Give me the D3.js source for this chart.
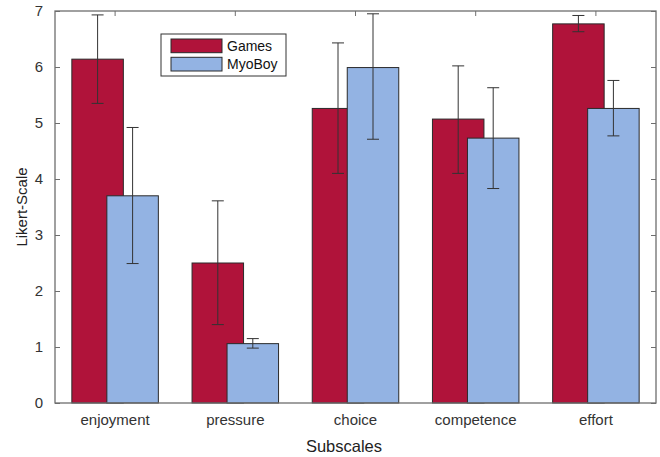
<!DOCTYPE html>
<html>
<head>
<meta charset="utf-8">
<script src="https://cdn.jsdelivr.net/npm/d3@7"></script>
<style>
  html, body { margin: 0; padding: 0; background: #fff; }
  text { font-family: "Liberation Sans", Arial, sans-serif; }
</style>
</head>
<body>
<svg id="chart" width="660" height="457"></svg>
<script>
// Subscale means and error limits for the two conditions
const categories = ["enjoyment", "pressure", "choice", "competence", "effort"];
const seriesNames = ["Games", "MyoBoy"];
const gamesMean = [6.14, 2.50, 5.26, 5.07, 6.77];
const gamesLow  = [5.35, 1.40, 4.10, 4.10, 6.63];
const gamesHigh = [6.93, 3.61, 6.43, 6.02, 6.92];
const myoMean = [3.70, 1.06, 5.99, 4.73, 5.26];
const myoLow  = [2.49, 0.98, 4.71, 3.83, 4.77];
const myoHigh = [4.92, 1.15, 6.95, 5.63, 5.76];
const yTicks = [0, 1, 2, 3, 4, 5, 6, 7];
const colors = ["#B0133A", "#93B3E3"];

const svg = d3.select("#chart");
const m = { left: 55, right: 4, top: 11, bottom: 54 };
const W = 660, H = 457;

const x = d3.scaleBand().domain(categories).range([m.left, W - m.right]);
const y = d3.scaleLinear().domain([0, 7]).range([H - m.bottom, m.top]);

const barW = 51.5, off = 17.5;
const series = [
  { name: seriesNames[0], mean: gamesMean, lo: gamesLow, hi: gamesHigh, dx: -off, color: colors[0] },
  { name: seriesNames[1], mean: myoMean, lo: myoLow, hi: myoHigh, dx: off, color: colors[1] }
];

const cx = c => x(c) + x.bandwidth() / 2;

// bars (second series drawn over the first) with their error bars
series.forEach(s => {
  const g = svg.append("g");
  g.selectAll("rect").data(categories).join("rect")
    .attr("x", c => cx(c) + s.dx - barW / 2)
    .attr("y", (c, i) => y(s.mean[i]))
    .attr("width", barW)
    .attr("height", (c, i) => y(0) - y(s.mean[i]))
    .attr("fill", s.color)
    .attr("stroke", "#2a2a2a")
    .attr("stroke-width", 1);
  const eb = g.selectAll("g.err").data(categories).join("g").attr("class", "err")
    .attr("stroke", "#333").attr("stroke-width", 1);
  eb.append("line")
    .attr("x1", c => cx(c) + s.dx).attr("x2", c => cx(c) + s.dx)
    .attr("y1", (c, i) => y(s.lo[i])).attr("y2", (c, i) => y(s.hi[i]));
  eb.append("line")
    .attr("x1", c => cx(c) + s.dx - 6).attr("x2", c => cx(c) + s.dx + 6)
    .attr("y1", (c, i) => y(s.hi[i])).attr("y2", (c, i) => y(s.hi[i]));
  eb.append("line")
    .attr("x1", c => cx(c) + s.dx - 6).attr("x2", c => cx(c) + s.dx + 6)
    .attr("y1", (c, i) => y(s.lo[i])).attr("y2", (c, i) => y(s.lo[i]));
});

// axes box
const axisColor = "#6e6e6e";
const yAxis = d3.axisLeft(y).tickValues(yTicks).tickFormat(d3.format("d")).tickSize(-5).tickPadding(12);
const gy = svg.append("g").attr("transform", `translate(${m.left},0)`).call(yAxis);
gy.select(".domain").remove();
gy.selectAll("line").attr("stroke", axisColor);
gy.selectAll("text").attr("font-size", 15).attr("fill", "#333");

const yAxisR = d3.axisRight(y).tickValues(yTicks).tickSize(-5).tickFormat("");
const gyr = svg.append("g").attr("transform", `translate(${W - m.right},0)`).call(yAxisR);
gyr.select(".domain").remove();
gyr.selectAll("line").attr("stroke", axisColor);

const xAxis = d3.axisBottom(x).tickSize(0).tickPadding(11);
const gx = svg.append("g").attr("transform", `translate(0,${y(0)})`).call(xAxis);
gx.select(".domain").remove();
gx.selectAll("text").attr("font-size", 15).attr("fill", "#333");

const xAxisT = d3.axisTop(x).tickSize(-5).tickFormat("");
const gxt = svg.append("g").attr("transform", `translate(0,${y(7)})`).call(xAxisT);
gxt.select(".domain").remove();
gxt.selectAll("line").attr("stroke", axisColor);

svg.append("rect")
  .attr("x", m.left).attr("y", y(7))
  .attr("width", W - m.right - m.left).attr("height", y(0) - y(7))
  .attr("fill", "none").attr("stroke", axisColor).attr("stroke-width", 1.3);

// axis titles
svg.append("text")
  .attr("x", 344).attr("y", 452)
  .attr("text-anchor", "middle").attr("font-size", 16.5).attr("fill", "#222")
  .text("Subscales");
svg.append("text")
  .attr("transform", `translate(27,${(y(0) + y(7)) / 2}) rotate(-90)`)
  .attr("text-anchor", "middle").attr("font-size", 15).attr("fill", "#222")
  .text("Likert-Scale");

// legend
const lg = svg.append("g").attr("transform", "translate(161,34)");
lg.append("rect").attr("width", 125).attr("height", 42)
  .attr("fill", "#fff").attr("stroke", "#333").attr("stroke-width", 1);
series.forEach((s, i) => {
  lg.append("rect").attr("x", 10).attr("y", 5 + i * 18.3)
    .attr("width", 51).attr("height", 13.7)
    .attr("fill", s.color).attr("stroke", "#2a2a2a").attr("stroke-width", 1);
  lg.append("text").attr("x", 66).attr("y", 17 + i * 18.3)
    .attr("font-size", 14).attr("fill", "#111").text(s.name);
});
</script>
</body>
</html>
